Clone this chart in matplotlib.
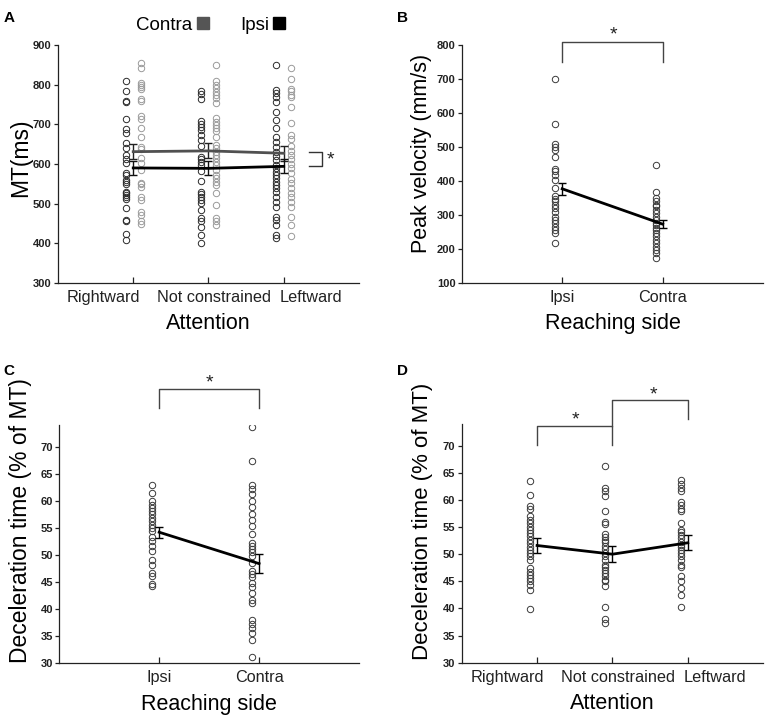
import matplotlib

matplotlib.use("Agg")
import matplotlib.pyplot as plt
from matplotlib.lines import Line2D
from matplotlib.transforms import ScaledTranslation

plt.rcParams["font.family"] = ["Liberation Sans", "DejaVu Sans"]

attention = ["Rightward", "Not constrained", "Leftward"]
sides = ["Ipsi", "Contra"]

# A: movement time (ms), one list per condition
mt_ipsi_right = [808, 785, 760, 755, 713, 687, 677, 654, 640, 623, 613, 603, 578, 571, 560,
                 554, 550, 530, 526, 522, 516, 511, 490, 459, 456, 423, 408]
mt_contra_right = [855, 843, 805, 799, 793, 788, 763, 759, 721, 713, 690, 669, 644, 639, 614,
                   602, 585, 553, 549, 543, 518, 509, 480, 471, 455, 449]
mt_ipsi_nc = [785, 776, 765, 708, 700, 693, 685, 672, 660, 645, 618, 612, 605, 598, 582, 556,
              530, 524, 518, 510, 502, 485, 465, 455, 440, 420, 400]
mt_contra_nc = [850, 808, 799, 791, 782, 774, 766, 753, 715, 707, 698, 690, 682, 669, 648, 640,
                631, 623, 614, 606, 598, 585, 572, 564, 555, 547, 526, 497, 463, 455, 446]
mt_ipsi_left = [850, 787, 778, 770, 757, 732, 711, 690, 669, 656, 644, 631, 619, 610, 598, 589,
                581, 572, 564, 555, 547, 539, 530, 518, 505, 492, 467, 459, 446, 421, 413]
mt_contra_left = [843, 813, 788, 783, 775, 768, 743, 703, 672, 662, 645, 632, 622, 612, 600,
                  590, 578, 562, 552, 540, 528, 518, 505, 492, 467, 445, 418]
mt_ipsi_mean = [590, 589, 594]
mt_ipsi_sem = [18, 18, 18]
mt_contra_mean = [631, 633, 627]
mt_contra_sem = [19, 19, 19]

# B: peak velocity (mm/s)
pv_ipsi = [701, 567, 509, 500, 492, 470, 436, 428, 418, 403, 379, 356, 347, 340, 330, 320, 310,
           295, 286, 276, 266, 256, 247, 219]
pv_contra = [446, 369, 349, 340, 330, 325, 315, 305, 295, 286, 276, 271, 261, 256, 247, 237,
             227, 217, 207, 197, 188, 173]
pv_mean = [377, 273]
pv_sem = [18, 11]

# C: deceleration time (% of MT) by reaching side
dt_ipsi = [62.9, 61.5, 59.9, 59.3, 58.7, 58.1, 57.5, 56.9, 56.2, 55.6, 55.0, 54.4, 53.4, 52.5,
           51.6, 50.8, 49.1, 48.2, 46.7, 46.2, 44.6, 44.3]
dt_contra = [73.7, 67.3, 62.9, 62.1, 61.2, 59.9, 58.9, 57.6, 56.5, 55.3, 53.8, 52.2, 51.7, 51.1,
             50.5, 49.9, 48.5, 47.1, 46.5, 45.9, 44.8, 44.1, 43.0, 41.7, 41.1, 38.0, 37.3, 36.5,
             35.6, 34.3, 31.2]
dt_side_mean = [54.2, 48.4]
dt_side_sem = [1.0, 1.7]

# D: deceleration time (% of MT) by attention
dt_right = [63.4, 61.0, 58.8, 58.3, 57.0, 56.3, 55.7, 55.1, 54.5, 53.9, 53.3, 52.7, 52.0, 51.4,
            50.8, 50.2, 49.6, 49.0, 47.4, 46.8, 46.2, 45.6, 45.0, 44.3, 43.4, 39.9]
dt_nc = [66.2, 62.2, 61.6, 60.8, 57.9, 56.0, 55.6, 53.8, 53.1, 52.6, 52.2, 51.5, 50.9, 50.3,
         49.6, 49.0, 48.0, 47.6, 47.1, 46.5, 45.9, 45.3, 45.0, 44.2, 40.3, 38.0, 37.4]
dt_left = [63.6, 63.0, 62.2, 61.6, 59.7, 59.1, 58.3, 57.9, 55.8, 54.4, 54.0, 53.6, 53.0, 52.3,
           51.7, 51.3, 50.8, 50.2, 49.6, 49.0, 48.0, 47.6, 45.9, 45.1, 43.7, 42.5, 40.3]
dt_att_mean = [51.6, 50.0, 52.1]
dt_att_sem = [1.4, 1.5, 1.4]

DOT = dict(ls="none", marker="o", mfc="none", markersize=4.6, mew=0.7)
AX_COL = "#222222"


def style_axes(ax):
    for s in ["top", "right"]:
        ax.spines[s].set_visible(False)
    for s in ["left", "bottom"]:
        ax.spines[s].set_linewidth(0.9)
        ax.spines[s].set_color(AX_COL)
    ax.tick_params(axis="y", direction="out", length=3, width=0.9, pad=1.5,
                   labelsize=8, colors=AX_COL)
    ax.tick_params(axis="x", direction="in", length=4, width=0.9, pad=5,
                   labelsize=11.7, colors=AX_COL)
    for lab in ax.get_yticklabels():
        lab.set_fontweight("bold")


def shift_labels(ax, fig, offsets_pt):
    for lab, dx in zip(ax.get_xticklabels(), offsets_pt):
        lab.set_transform(lab.get_transform() + ScaledTranslation(dx / 72, 0, fig.dpi_scale_trans))


def star(ax, x, y):
    ax.text(x, y, "*", ha="center", va="center", fontsize=14, color="#222222", clip_on=False)


def bracket(ax, x0, x1, y_top, y0, y1, star_x, star_y, color="#444444"):
    ax.plot([x0, x0, x1, x1], [y0, y_top, y_top, y1], color=color, lw=1.0, clip_on=False)
    star(ax, star_x, star_y)


fig = plt.figure(figsize=(7.67, 7.23), dpi=100)
axA = fig.add_axes([0.0756, 0.6086, 0.3924, 0.3292])
axB = fig.add_axes([0.602, 0.6086, 0.393, 0.3292])
axC = fig.add_axes([0.0773, 0.0826, 0.3907, 0.3296])
axD = fig.add_axes([0.602, 0.0834, 0.393, 0.3302])

# ---- A
ipsi_cols = [mt_ipsi_right, mt_ipsi_nc, mt_ipsi_left]
contra_cols = [mt_contra_right, mt_contra_nc, mt_contra_left]
pos = [1, 2, 3]
for p, vals in zip(pos, ipsi_cols):
    axA.plot([p - 0.1] * len(vals), vals, mec="#2a2a2a", **DOT)
for p, vals in zip(pos, contra_cols):
    axA.plot([p + 0.1] * len(vals), vals, mec="#9a9a9a", **DOT)
axA.errorbar(pos, mt_contra_mean, yerr=mt_contra_sem, color="#505050", lw=2.0,
             elinewidth=1.0, capsize=3.2, capthick=1.0, ecolor="#222222")
axA.errorbar(pos, mt_ipsi_mean, yerr=mt_ipsi_sem, color="black", lw=2.0,
             elinewidth=1.0, capsize=3.2, capthick=1.0, ecolor="#111111")
axA.set_xlim(0, 4)
axA.set_ylim(300, 900)
axA.set_yticks(range(300, 901, 100))
axA.set_xticks(pos)
axA.set_xticklabels(attention)
style_axes(axA)
shift_labels(axA, fig, [-21.5, 4.3, 19.5])
axA.set_xlabel("Attention", fontsize=15.5, labelpad=6)
axA.set_ylabel("MT(ms)", fontsize=16.5)
axA.yaxis.set_label_coords(-0.086, 0.525)
# contra vs ipsi bracket to the right of the lines
axA.plot([3.34, 3.51, 3.51, 3.34], [629, 629, 596, 596], color="#333333", lw=1.0, clip_on=False)
star(axA, 3.62, 610)
handles = [Line2D([], [], marker="s", color="#555555", ls="none", markersize=8),
           Line2D([], [], marker="s", color="black", ls="none", markersize=8)]
axA.legend(handles, ["Contra", "Ipsi"], ncol=2, markerfirst=False, frameon=False,
           loc="center", bbox_to_anchor=(0.51, 1.083), fontsize=13.5, handletextpad=0.15,
           columnspacing=1.6, handlelength=0.8, borderpad=0)

# ---- B
axB.plot([1 - 0.07] * len(pv_ipsi), pv_ipsi, mec="#3a3a3a", **DOT)
axB.plot([2 - 0.07] * len(pv_contra), pv_contra, mec="#3a3a3a", **DOT)
axB.errorbar([1, 2], pv_mean, yerr=pv_sem, color="black", lw=2.0, elinewidth=1.0,
             capsize=2.8, capthick=1.0)
axB.set_xlim(0, 3)
axB.set_ylim(100, 800)
axB.set_yticks(range(100, 801, 100))
axB.set_xticks([1, 2])
axB.set_xticklabels(sides)
style_axes(axB)
axB.set_xlabel("Reaching side", fontsize=15.5, labelpad=6)
axB.set_ylabel("Peak velocity (mm/s)", fontsize=15.5)
axB.yaxis.set_label_coords(-0.099, 0.543)
bracket(axB, 1, 2, 808, 750, 750, 1.51, 828)

# ---- C
axC.plot([1 - 0.07] * len(dt_ipsi), dt_ipsi, mec="#3a3a3a", **DOT)
axC.plot([2 - 0.07] * len(dt_contra), dt_contra, mec="#3a3a3a", **DOT)
axC.errorbar([1, 2], dt_side_mean, yerr=dt_side_sem, color="black", lw=2.0, elinewidth=1.0,
             capsize=2.8, capthick=1.0)
axC.set_xlim(0, 3)
axC.set_ylim(30, 74)
axC.set_yticks(range(30, 71, 5))
axC.set_xticks([1, 2])
axC.set_xticklabels(sides)
style_axes(axC)
axC.set_xlabel("Reaching side", fontsize=15.5, labelpad=6)
axC.set_ylabel("Deceleration time (% of MT)", fontsize=16.5)
axC.yaxis.set_label_coords(-0.091, 0.6)
bracket(axC, 1, 2, 80.7, 77.1, 77.1, 1.5, 81.7)

# ---- D
for p, vals in zip(pos, [dt_right, dt_nc, dt_left]):
    axD.plot([p - 0.093] * len(vals), vals, mec="#3a3a3a", **DOT)
axD.errorbar(pos, dt_att_mean, yerr=dt_att_sem, color="black", lw=2.0, elinewidth=1.0,
             capsize=2.8, capthick=1.0)
axD.set_xlim(0, 4)
axD.set_ylim(30, 74)
axD.set_yticks(range(30, 71, 5))
axD.set_xticks(pos)
axD.set_xticklabels(attention)
style_axes(axD)
shift_labels(axD, fig, [-21.5, 4.3, 19.5])
axD.set_xlabel("Attention", fontsize=15.5, labelpad=6)
axD.set_ylabel("Deceleration time (% of MT)", fontsize=16)
axD.yaxis.set_label_coords(-0.096, 0.59)
bracket(axD, 1, 2, 73.7, 70.2, 70.2, 1.51, 74.7)
bracket(axD, 2, 3, 78.5, 73.7, 74.9, 2.54, 79.4)

for letter, x, y in [("A", 0.005, 0.985), ("B", 0.518, 0.985), ("C", 0.005, 0.497),
                     ("D", 0.518, 0.497)]:
    fig.text(x, y, letter, fontsize=11, fontweight="bold", va="top", ha="left")

fig.savefig("out.png", dpi=100)
